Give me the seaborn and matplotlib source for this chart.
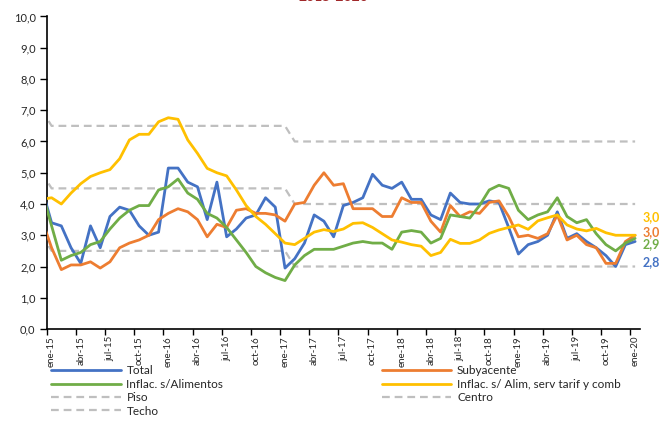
import matplotlib
matplotlib.use("Agg")
import matplotlib.pyplot as plt
from matplotlib.lines import Line2D
import seaborn as sns
import pandas as pd
import numpy as np

# monthly series, dic-14 .. ene-20 (first point sits just left of the axis)
total = [4.5,
         3.4, 3.3, 2.6, 2.1, 3.3, 2.6, 3.6, 3.9, 3.8, 3.3, 3.0, 3.1,
         5.15, 5.15, 4.7, 4.55, 3.5, 4.7, 2.95, 3.2, 3.55, 3.65, 4.2, 3.9,
         1.95, 2.25, 2.75, 3.65, 3.45, 2.95, 3.95, 4.05, 4.2, 4.95, 4.6, 4.5,
         4.7, 4.15, 4.15, 3.65, 3.5, 4.35, 4.05, 4.0, 4.0, 4.1, 4.05, 3.25,
         2.4, 2.7, 2.8, 3.0, 3.75, 2.9, 3.05, 2.8, 2.6, 2.35, 2.0, 2.7,
         2.8]
subyacente = [3.5,
              2.6, 1.9, 2.05, 2.05, 2.15, 1.95, 2.15, 2.6, 2.75, 2.85, 3.0, 3.5,
              3.7, 3.85, 3.75, 3.5, 2.95, 3.35, 3.25, 3.8, 3.85, 3.7, 3.7, 3.65,
              3.45, 4.0, 4.05, 4.6, 5.0, 4.6, 4.65, 3.85, 3.85, 3.85, 3.6, 3.6,
              4.2, 4.05, 4.05, 3.45, 3.1, 3.95, 3.6, 3.75, 3.7, 4.05, 4.1, 3.6,
              2.95, 3.0, 2.9, 3.05, 3.65, 2.85, 3.0, 2.7, 2.6, 2.1, 2.1, 2.8,
              3.0]
sin_alimentos = [4.4,
                 3.3, 2.2, 2.35, 2.45, 2.7, 2.8, 3.2, 3.55, 3.8, 3.95, 3.95, 4.45,
                 4.55, 4.8, 4.35, 4.15, 3.7, 3.55, 3.25, 2.85, 2.45, 2.0, 1.8, 1.65,
                 1.55, 2.05, 2.35, 2.55, 2.55, 2.55, 2.65, 2.75, 2.8, 2.75, 2.75, 2.55,
                 3.1, 3.15, 3.1, 2.75, 2.9, 3.65, 3.6, 3.55, 3.95, 4.45, 4.6, 4.5,
                 3.8, 3.5, 3.65, 3.75, 4.2, 3.6, 3.4, 3.5, 3.05, 2.7, 2.5, 2.75,
                 2.9]
sin_alim_serv = [4.15,
                 4.2, 4.0, 4.35, 4.65, 4.88, 5.0, 5.1, 5.45, 6.05, 6.23, 6.23, 6.63,
                 6.76, 6.71, 6.05, 5.62, 5.14, 5.0, 4.9, 4.45, 3.95, 3.6, 3.35, 3.05,
                 2.75, 2.7, 2.9, 3.1, 3.18, 3.12, 3.2, 3.38, 3.4, 3.25, 3.05, 2.85,
                 2.78, 2.7, 2.65, 2.35, 2.45, 2.87, 2.74, 2.74, 2.85, 3.06, 3.17, 3.25,
                 3.33, 3.19, 3.46, 3.56, 3.65, 3.33, 3.2, 3.14, 3.22, 3.08, 3.0, 3.0,
                 3.0]
piso = [3.0,
        2.5, 2.5, 2.5, 2.5, 2.5, 2.5, 2.5, 2.5, 2.5, 2.5, 2.5, 2.5,
        2.5, 2.5, 2.5, 2.5, 2.5, 2.5, 2.5, 2.5, 2.5, 2.5, 2.5, 2.5,
        2.5, 2.0, 2.0, 2.0, 2.0, 2.0, 2.0, 2.0, 2.0, 2.0, 2.0, 2.0,
        2.0, 2.0, 2.0, 2.0, 2.0, 2.0, 2.0, 2.0, 2.0, 2.0, 2.0, 2.0,
        2.0, 2.0, 2.0, 2.0, 2.0, 2.0, 2.0, 2.0, 2.0, 2.0, 2.0, 2.0,
        2.0]
centro = [5.0,
          4.5, 4.5, 4.5, 4.5, 4.5, 4.5, 4.5, 4.5, 4.5, 4.5, 4.5, 4.5,
          4.5, 4.5, 4.5, 4.5, 4.5, 4.5, 4.5, 4.5, 4.5, 4.5, 4.5, 4.5,
          4.5, 4.0, 4.0, 4.0, 4.0, 4.0, 4.0, 4.0, 4.0, 4.0, 4.0, 4.0,
          4.0, 4.0, 4.0, 4.0, 4.0, 4.0, 4.0, 4.0, 4.0, 4.0, 4.0, 4.0,
          4.0, 4.0, 4.0, 4.0, 4.0, 4.0, 4.0, 4.0, 4.0, 4.0, 4.0, 4.0,
          4.0]
techo = [7.0,
         6.5, 6.5, 6.5, 6.5, 6.5, 6.5, 6.5, 6.5, 6.5, 6.5, 6.5, 6.5,
         6.5, 6.5, 6.5, 6.5, 6.5, 6.5, 6.5, 6.5, 6.5, 6.5, 6.5, 6.5,
         6.5, 6.0, 6.0, 6.0, 6.0, 6.0, 6.0, 6.0, 6.0, 6.0, 6.0, 6.0,
         6.0, 6.0, 6.0, 6.0, 6.0, 6.0, 6.0, 6.0, 6.0, 6.0, 6.0, 6.0,
         6.0, 6.0, 6.0, 6.0, 6.0, 6.0, 6.0, 6.0, 6.0, 6.0, 6.0, 6.0,
         6.0]

tick_labels = ['ene-15', 'abr-15', 'jul-15', 'oct-15', 'ene-16', 'abr-16', 'jul-16',
               'oct-16', 'ene-17', 'abr-17', 'jul-17', 'oct-17', 'ene-18', 'abr-18',
               'jul-18', 'oct-18', 'ene-19', 'abr-19', 'jul-19', 'oct-19', 'ene-20']

df = pd.DataFrame({'Total': total, 'Subyacente': subyacente,
                   'Inflac. s/Alimentos': sin_alimentos,
                   'Inflac. s/ Alim, serv tarif y comb': sin_alim_serv,
                   'Piso': piso, 'Centro': centro, 'Techo': techo})
df['mes'] = np.arange(-1, len(df) - 1)

sns.set_theme(style='white')
plt.rcParams['font.family'] = ['Lato', 'DejaVu Sans']

fig = plt.figure(figsize=(6.61, 4.43), dpi=100)
ax = fig.add_axes([0.0707, 0.2573, 0.8975, 0.7055])

grey = '#BFBFBF'
for col in ['Piso', 'Centro', 'Techo']:
    sns.lineplot(data=df, x='mes', y=col, color=grey, lw=1.6, ax=ax,
                 dashes=False, linestyle=(0, (3.5, 2.2)), zorder=1)

colors = {'Total': '#4472C4', 'Subyacente': '#ED7D31',
          'Inflac. s/Alimentos': '#70AD47',
          'Inflac. s/ Alim, serv tarif y comb': '#FFC000'}
for col, c in colors.items():
    sns.lineplot(data=df, x='mes', y=col, color=c, lw=2.0, ax=ax, zorder=3)

ax.set_xlim(-0.5, len(df) - 1.5)
ax.set_ylim(0, 10)
ax.set_yticks(np.arange(0, 11, 1))
ax.set_yticklabels([f'{v:.1f}'.replace('.', ',') for v in np.arange(0, 11, 1)])
ax.set_xticks(np.arange(-0.5, 60, 3))
ax.set_xticklabels([])
ax.set_xticks(np.arange(0, 61, 3), minor=True)
ax.set_xticklabels(tick_labels, minor=True, rotation=90)
ax.tick_params(axis='x', which='major', direction='out', length=4, width=1, color='black', bottom=True)
ax.tick_params(axis='x', which='minor', length=0, labelsize=7, labelcolor='#262626', pad=5)
ax.tick_params(axis='y', direction='out', length=5, width=1, color='black', left=True,
               labelsize=8, labelcolor='#262626', pad=3)
ax.set_xlabel('')
ax.set_ylabel('')
for s in ['top', 'right']:
    ax.spines[s].set_visible(False)
for s in ['left', 'bottom']:
    ax.spines[s].set_color('black')
    ax.spines[s].set_linewidth(1.2)

# end-of-series labels
label_offsets = {'Inflac. s/ Alim, serv tarif y comb': -18, 'Subyacente': -3,
                 'Inflac. s/Alimentos': 6, 'Total': 21}
for col, dy in label_offsets.items():
    v = df[col].iloc[-1]
    ax.annotate(f'{v:.1f}'.replace('.', ','), xy=(df['mes'].iloc[-1], v),
                xytext=(7, -dy), textcoords='offset pixels', color=colors[col],
                fontsize=9, fontweight='bold', va='center', ha='left',
                annotation_clip=False)

fig.text(0.505, 1.006, '2015-2020', color='#A0282A', fontsize=10,
         fontweight='bold', ha='center', va='center')

h = {c: Line2D([], [], color=colors[c], lw=2.0) for c in colors}
for c in ['Piso', 'Centro', 'Techo']:
    h[c] = Line2D([], [], color=grey, lw=1.6, linestyle=(0, (3.5, 2.2)))
order = ['Total', 'Inflac. s/Alimentos', 'Piso', 'Techo',
         'Subyacente', 'Inflac. s/ Alim, serv tarif y comb', 'Centro']
if ax.get_legend() is not None:
    ax.get_legend().remove()
fig.legend([h[o] for o in order], order, ncol=2, loc='upper left',
           bbox_to_anchor=(0.077, 0.175), frameon=False, fontsize=8.5,
           handlelength=5.9, handletextpad=0.5, labelspacing=0.2,
           columnspacing=13.4, borderaxespad=0, borderpad=0)

fig.savefig('out.png', dpi=100)
